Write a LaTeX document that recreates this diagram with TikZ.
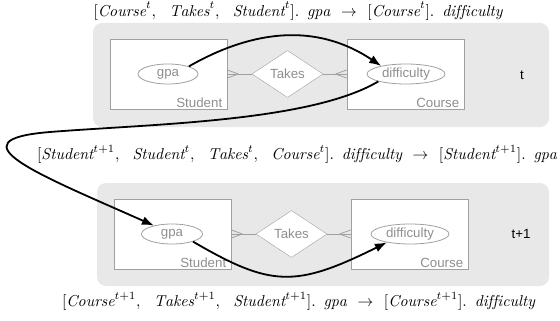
\documentclass[tikz,border=0pt]{standalone}
\usepackage{fontspec}
\setsansfont{Liberation Sans}
\usetikzlibrary{shapes.geometric,arrows.meta}
\definecolor{erline}{HTML}{A0A0A0}
\definecolor{ertext}{HTML}{8F8F8F}
\definecolor{panel}{HTML}{E8E8E8}
% rule typesetting: enlarged math with roomier separators
\newcommand{\rulefmt}[1]{\scalebox{1.58}{$#1$}}
\newcommand{\rsep}{,\mskip 12mu}
\newcommand{\rdot}{.\mskip 9mu}
\newcommand{\rto}{\mskip 7mu\rightarrow\mskip 7mu}
\begin{document}
\begin{tikzpicture}[x=1pt,y=-1pt,
  panelbox/.style={fill=panel, rounded corners=9pt},
  entity/.style={draw=erline, fill=white, line width=0.8pt, minimum width=117pt, minimum height=70pt, inner sep=0pt},
  attr/.style={draw=erline, fill=white, ellipse, line width=0.8pt, minimum height=20pt, inner sep=0pt, text=ertext, font=\sffamily\fontsize{13.3}{15}\selectfont},
  rel/.style={draw=erline, fill=white, diamond, aspect=1.5, minimum width=71pt, minimum height=47pt, inner sep=0pt, text=ertext, font=\sffamily\fontsize{13.3}{15}\selectfont},
  entlabel/.style={text=ertext, font=\sffamily\fontsize{13.3}{15}\selectfont, inner sep=0pt, anchor=south east},
  erlink/.style={draw=erline, line width=0.8pt},
  dep/.style={line width=1.8pt, -{Latex[length=12pt,width=9pt]}},
  rulelabel/.style={inner sep=0pt},
  slice/.style={font=\sffamily\fontsize{13.3}{15}\selectfont, inner sep=0pt}
]
\useasboundingbox (0,0) rectangle (560,321);

% time-slice panels
\fill[panelbox] (93,23) rectangle (549,127);
\fill[panelbox] (97,183) rectangle (549,286);

% slice t
\node[entity] (sb1) at (168.5,74) {};
\node[entity] (cb1) at (405.5,74) {};
\node[entlabel] (sl1) at ([shift={(-5,-2)}]sb1.south east) {Student};
\node[entlabel] (cl1) at ([shift={(-5,-2)}]cb1.south east) {Course};
\node[attr, minimum width=60pt] (gpa1) at (168,74) {gpa};
\node[attr, minimum width=78pt] (diff1) at (406,74) {difficulty};
\node[rel] (tk1) at (287.5,74) {Takes};
\draw[erlink] (tk1.west) -- (sb1.east);
\draw[erlink] ([xshift=11pt]sb1.east) -- ([yshift=4pt]sb1.east)
              ([xshift=11pt]sb1.east) -- ([yshift=-4pt]sb1.east);
\draw[erlink] (tk1.east) -- (cb1.west);
\draw[erlink] ([xshift=-11pt]cb1.west) -- ([yshift=4pt]cb1.west)
              ([xshift=-11pt]cb1.west) -- ([yshift=-4pt]cb1.west);
\node[slice] (t1) at (522,75) {t};

% slice t+1
\node[entity] (sb2) at (172.5,234) {};
\node[entity] (cb2) at (409.5,234) {};
\node[entlabel] (sl2) at ([shift={(-5,-2)}]sb2.south east) {Student};
\node[entlabel] (cl2) at ([shift={(-5,-2)}]cb2.south east) {Course};
\node[attr, minimum width=61pt] (gpa2) at (172,234) {gpa};
\node[attr, minimum width=78pt] (diff2) at (410,234) {difficulty};
\node[rel] (tk2) at (291.5,234) {Takes};
\draw[erlink] (tk2.west) -- (sb2.east);
\draw[erlink] ([xshift=11pt]sb2.east) -- ([yshift=4pt]sb2.east)
              ([xshift=11pt]sb2.east) -- ([yshift=-4pt]sb2.east);
\draw[erlink] (tk2.east) -- (cb2.west);
\draw[erlink] ([xshift=-11pt]cb2.west) -- ([yshift=4pt]cb2.west)
              ([xshift=-11pt]cb2.west) -- ([yshift=-4pt]cb2.west);
\node[slice] (t2) at (521,234) {t+1};

% dependency rules
\node[rulelabel] (r1) at (298,11)
  {\rulefmt{[\mathit{Course}^t\rsep \mathit{Takes}^t\rsep \mathit{Student}^t]\rdot\mathit{gpa} \rto [\mathit{Course}^t]\rdot\mathit{difficulty}}};
\node[rulelabel] (r2) at (297,154.5)
  {\rulefmt{[\mathit{Student}^{t+1}\rsep \mathit{Student}^t\rsep \mathit{Takes}^t\rsep \mathit{Course}^t]\rdot\mathit{difficulty} \rto [\mathit{Student}^{t+1}]\rdot\mathit{gpa}}};
\node[rulelabel] (r3) at (298.5,301.5)
  {\rulefmt{[\mathit{Course}^{t+1}\rsep \mathit{Takes}^{t+1}\rsep \mathit{Student}^{t+1}]\rdot\mathit{gpa} \rto [\mathit{Course}^{t+1}]\rdot\mathit{difficulty}}};

% dependency arrows
\coordinate (bend) at (50,132);
\draw[dep] (gpa1.20) .. controls (235,40) and (305,15) .. (diff1.162);
\draw[dep] (diff1.195) .. controls (310,122) and (150,124) .. (bend)
           .. controls (-50,140) and (40,175) .. (gpa2.155);
\draw[dep] (gpa2.-20) .. controls (271,287) and (295,288) .. (diff2.200);
\end{tikzpicture}
\end{document}
